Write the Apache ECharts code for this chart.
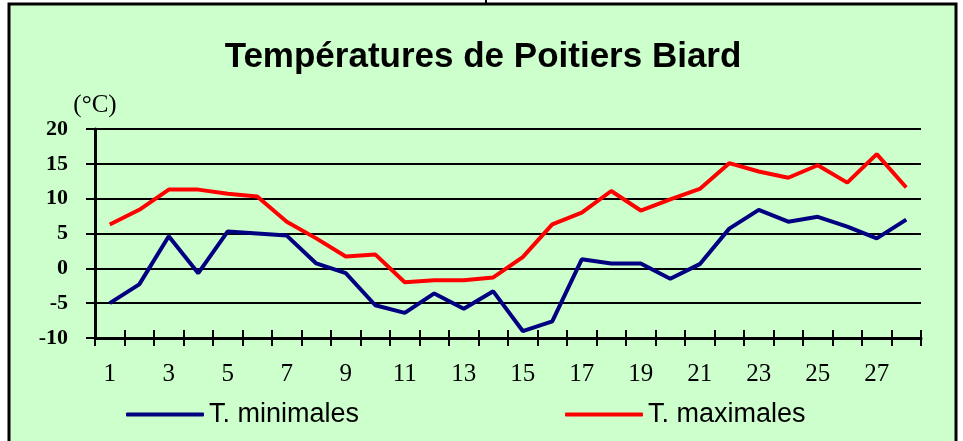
<!DOCTYPE html>
<html>
<head>
<meta charset="utf-8">
<script src="https://cdn.jsdelivr.net/npm/echarts@6/dist/echarts.min.js"></script>
<style>
  html, body { margin: 0; padding: 0; background: #fff; }
  #chart { width: 963px; height: 441px; }
</style>
</head>
<body>
<div id="chart"></div>
<script>
const days = ["1", "2", "3", "4", "5", "6", "7", "8", "9", "10", "11", "12", "13", "14",
  "15", "16", "17", "18", "19", "20", "21", "22", "23", "24", "25", "26", "27", "28"];
const tMin = [-5.0, -2.3, 4.6, -0.7, 5.3, 5.0, 4.7, 0.7, -0.7, -5.3, -6.4, -3.6, -5.8, -3.3,
  -9.0, -7.6, 1.3, 0.7, 0.7, -1.5, 0.6, 5.7, 8.4, 6.7, 7.4, 6.0, 4.3, 7.0];
const tMax = [6.3, 8.4, 11.3, 11.3, 10.7, 10.3, 6.7, 4.3, 1.7, 2.0, -2.0, -1.7, -1.7, -1.3,
  1.6, 6.3, 8.0, 11.1, 8.3, 9.9, 11.4, 15.1, 13.9, 13.0, 14.8, 12.3, 16.4, 11.6];
const seriesNames = ["T. minimales", "T. maximales"];

const serif = "'Liberation Serif', 'Times New Roman', serif";
const sans = "'Liberation Sans', Arial, sans-serif";

const chart = echarts.init(document.getElementById("chart"));

const legendBase = {
  top: 396,
  icon: "roundRect",
  itemWidth: 78,
  itemHeight: 4,
  textStyle: { fontFamily: sans, fontSize: 27, color: "#000" }
};

chart.setOption({
  backgroundColor: "#fff",
  animation: false,
  graphic: [
    {
      type: "rect",
      z: -10,
      shape: { x: 9, y: 4, width: 947, height: 460 },
      style: { fill: "#CCFFCC", stroke: "#000", lineWidth: 3 }
    },
    {
      type: "line",
      z: -10,
      shape: { x1: 486, y1: 0, x2: 486, y2: 4 },
      style: { stroke: "#000", lineWidth: 2 }
    }
  ],
  title: {
    text: "Températures de Poitiers Biard",
    left: 478,
    textAlign: "center",
    top: 35,
    textStyle: { fontFamily: sans, fontWeight: "bold", fontSize: 35, color: "#000" }
  },
  legend: [
    Object.assign({ left: 121, data: [seriesNames[0]] }, legendBase),
    Object.assign({ left: 560, data: [seriesNames[1]] }, legendBase)
  ],
  grid: { left: 95, right: 42, top: 129, bottom: 103 },
  xAxis: [
    {
      type: "category",
      data: days,
      boundaryGap: true,
      axisLine: { onZero: false, lineStyle: { color: "#000", width: 3 } },
      axisTick: { show: true, interval: 0, length: 8, lineStyle: { color: "#000", width: 2 } },
      axisLabel: { interval: 1, margin: 24, fontFamily: serif, fontSize: 25, color: "#000" },
      splitLine: { show: false }
    },
    {
      type: "category",
      data: days,
      position: "bottom",
      boundaryGap: true,
      axisLine: { show: false, onZero: false },
      axisTick: { show: true, inside: true, interval: 0, length: 8, lineStyle: { color: "#000", width: 2 } },
      axisLabel: { show: false },
      splitLine: { show: false }
    }
  ],
  yAxis: {
    type: "value",
    min: -10,
    max: 20,
    interval: 5,
    name: "(°C)",
    nameLocation: "end",
    nameGap: 6,
    nameTextStyle: { fontFamily: serif, fontSize: 25, color: "#000" },
    axisLine: { show: true, lineStyle: { color: "#000", width: 3 } },
    axisTick: { show: true, length: 9, lineStyle: { color: "#000", width: 2 } },
    axisLabel: { margin: 27, fontFamily: serif, fontWeight: "bold", fontSize: 22, color: "#000" },
    splitLine: { show: true, lineStyle: { color: "#000", width: 2 } }
  },
  series: [
    {
      name: seriesNames[0],
      type: "line",
      data: tMin,
      showSymbol: false,
      symbol: "none",
      color: "#000080",
      lineStyle: { color: "#000080", width: 4 }
    },
    {
      name: seriesNames[1],
      type: "line",
      data: tMax,
      showSymbol: false,
      symbol: "none",
      color: "#FF0000",
      lineStyle: { color: "#FF0000", width: 4 }
    }
  ]
});
</script>
</body>
</html>
